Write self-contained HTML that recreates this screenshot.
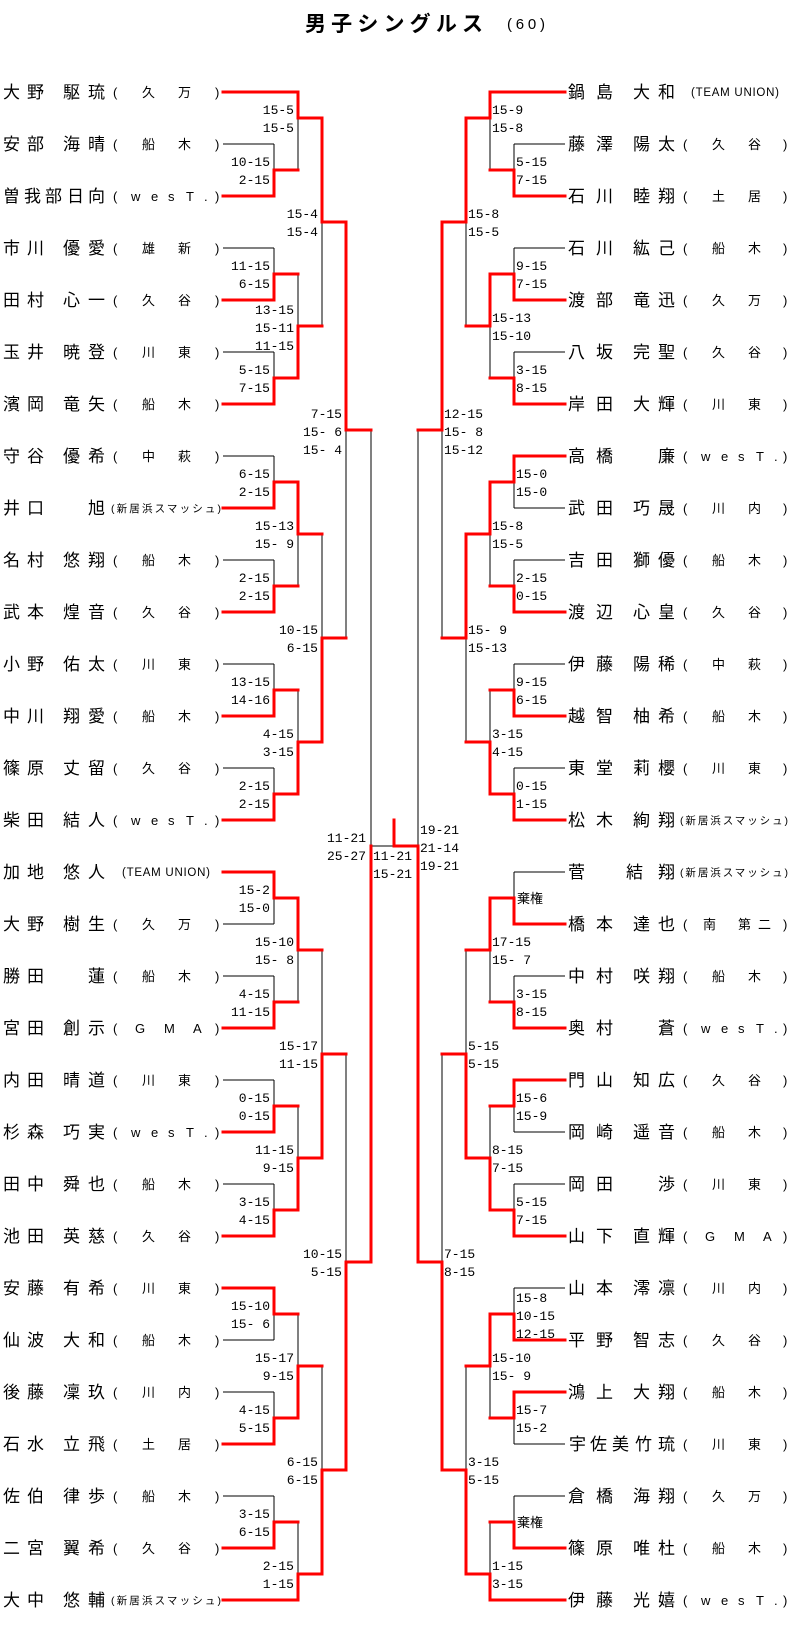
<!DOCTYPE html>
<html><head><meta charset="utf-8"><style>
html,body{margin:0;padding:0;background:#fff;}
svg{display:block;}
.n{font-family:"Liberation Sans","Noto Sans CJK JP",sans-serif;font-size:17px;fill:#000;}
.a{font-family:"Liberation Sans","Noto Sans CJK JP",sans-serif;font-size:13px;fill:#000;}
.s{font-family:"Liberation Sans","Noto Sans CJK JP",sans-serif;font-size:10.5px;fill:#000;}
.t{font-family:"Liberation Sans",sans-serif;font-size:11.5px;fill:#000;}
.c{font-family:"Liberation Mono",monospace;font-size:13px;fill:#000;}
.ce{font-family:"Liberation Mono",monospace;font-size:13px;fill:#000;text-anchor:end;}
.k{font-family:"Liberation Sans","Noto Sans CJK JP",sans-serif;font-size:13px;fill:#000;}
.b{fill:none;stroke:#000;stroke-width:1;}
.r{fill:none;stroke:#f00;stroke-width:3;stroke-linecap:square;stroke-linejoin:miter;}
</style></head><body>
<svg width="794" height="1627" viewBox="0 0 794 1627" xmlns="http://www.w3.org/2000/svg">
<text x="305" y="31" textLength="178" style="font-family:'Liberation Sans','Noto Sans CJK JP',sans-serif;font-size:21px;font-weight:bold;">男子シングルス</text>
<text x="507" y="29" textLength="38" style="font-family:'Liberation Sans','Noto Sans CJK JP',sans-serif;font-size:15px;">(60)</text>

<!-- black lines -->
<path class="b" d="
M223 144H274 M223 248H274 M223 352H274 M223 456H274 M223 560H274 M223 664H274 M223 768H274
M223 924H274 M223 976H274 M223 1080H274 M223 1184H274 M223 1340H274 M223 1392H274 M223 1496H274
M274 144V170 M274 248V274 M274 352V378 M274 456V482 M274 560V586 M274 664V690 M274 768V794
M274 898V924 M274 976V1002 M274 1080V1106 M274 1184V1210 M274 1314V1340 M274 1392V1418 M274 1496V1522
M298 118V170 M298 274V326 M298 534V586 M298 690V742 M298 950V1002 M298 1106V1158 M298 1314V1366 M298 1522V1574
M322 222V326 M322 534V638 M322 950V1054 M322 1366V1470
M346 430V638 M346 1054V1262
M371 430V846H394
M514 144H565 M514 248H565 M514 352H565 M514 508H565 M514 560H565 M514 664H565 M514 768H565
M514 872H565 M514 976H565 M514 1132H565 M514 1184H565 M514 1288H565 M514 1444H565 M514 1496H565
M514 144V170 M514 248V274 M514 352V378 M514 482V508 M514 560V586 M514 664V690 M514 768V794
M514 872V898 M514 976V1002 M514 1106V1132 M514 1184V1210 M514 1288V1314 M514 1418V1444 M514 1496V1522
M490 118V170 M490 326V378 M490 534V586 M490 690V742 M490 950V1002 M490 1106V1158 M490 1366V1418 M490 1522V1574
M466 222V326 M466 638V742 M466 950V1054 M466 1366V1470
M442 430V638 M442 1054V1262
M418 430V846
"/>
<!-- red lines -->
<path class="r" d="
M223 92H298 M223 196H274 M223 300H274 M223 404H274 M223 508H274 M223 612H274 M223 716H274 M223 820H274
M223 872H274 M223 1028H274 M223 1132H274 M223 1236H274 M223 1288H274 M223 1444H274 M223 1548H274 M223 1600H298
M274 196V170H298 M274 300V274H298 M274 404V378H298 M274 508V482H298 M274 612V586H298 M274 716V690H298 M274 820V794H298
M274 872V898H298 M274 1028V1002H298 M274 1132V1106H298 M274 1236V1210H298 M274 1288V1314H298 M274 1444V1418H298 M274 1548V1522H298
M298 92V118H322 M298 378V326H322 M298 482V534H322 M298 794V742H322 M298 898V950H322 M298 1210V1158H322 M298 1418V1366H322 M298 1600V1574H322
M322 118V222H346 M322 742V638H346 M322 1158V1054H346 M322 1574V1470H346
M346 222V430H371 M346 1470V1262H371
M371 1262V846
M394 820V846H418
M490 92H565 M514 196H565 M514 300H565 M514 404H565 M514 456H565 M514 612H565 M514 716H565 M514 820H565
M514 924H565 M514 1028H565 M514 1080H565 M514 1236H565 M514 1340H565 M514 1392H565 M514 1548H565 M490 1600H565
M514 196V170H490 M514 300V274H490 M514 404V378H490 M514 456V482H490 M514 612V586H490 M514 716V690H490 M514 820V794H490
M514 924V898H490 M514 1028V1002H490 M514 1080V1106H490 M514 1236V1210H490 M514 1340V1314H490 M514 1392V1418H490 M514 1548V1522H490
M490 92V118H466 M490 274V326H466 M490 482V534H466 M490 794V742H466 M490 898V950H466 M490 1210V1158H466 M490 1314V1366H466 M490 1600V1574H466
M466 118V222H442 M466 534V638H442 M466 1158V1054H442 M466 1574V1470H442
M442 222V430H418 M442 1470V1262H418
M418 1262V846
"/>

<!-- LEFT names -->
<g class="n">
<text x="3 27 63 88" y="98">大野駆琉</text>
<text x="3 27 63 88" y="150">安部海晴</text>
<text x="3 24 45 67 88" y="202">曽我部日向</text>
<text x="3 27 63 88" y="254">市川優愛</text>
<text x="3 27 63 88" y="306">田村心一</text>
<text x="3 27 63 88" y="358">玉井暁登</text>
<text x="3 27 63 88" y="410">濱岡竜矢</text>
<text x="3 27 63 88" y="462">守谷優希</text>
<text x="3 27 88" y="514">井口旭</text>
<text x="3 27 63 88" y="566">名村悠翔</text>
<text x="3 27 63 88" y="618">武本煌音</text>
<text x="3 27 63 88" y="670">小野佑太</text>
<text x="3 27 63 88" y="722">中川翔愛</text>
<text x="3 27 63 88" y="774">篠原丈留</text>
<text x="3 27 63 88" y="826">柴田結人</text>
<text x="3 27 63 88" y="878">加地悠人</text>
<text x="3 27 63 88" y="930">大野樹生</text>
<text x="3 27 88" y="982">勝田蓮</text>
<text x="3 27 63 88" y="1034">宮田創示</text>
<text x="3 27 63 88" y="1086">内田晴道</text>
<text x="3 27 63 88" y="1138">杉森巧実</text>
<text x="3 27 63 88" y="1190">田中舜也</text>
<text x="3 27 63 88" y="1242">池田英慈</text>
<text x="3 27 63 88" y="1294">安藤有希</text>
<text x="3 27 63 88" y="1346">仙波大和</text>
<text x="3 27 63 88" y="1398">後藤凜玖</text>
<text x="3 27 63 88" y="1450">石水立飛</text>
<text x="3 27 63 88" y="1502">佐伯律歩</text>
<text x="3 27 63 88" y="1554">二宮翼希</text>
<text x="3 27 63 88" y="1606">大中悠輔</text>
</g>
<g class="a">
<text x="113 142 178 215" y="97">(久万)</text>
<text x="113 142 178 215" y="149">(船木)</text>
<text x="113 131 151 168 186 204 215" y="201">(wesT.)</text>
<text x="113 142 178 215" y="253">(雄新)</text>
<text x="113 142 178 215" y="305">(久谷)</text>
<text x="113 142 178 215" y="357">(川東)</text>
<text x="113 142 178 215" y="409">(船木)</text>
<text x="113 142 178 215" y="461">(中萩)</text>
<text x="113 142 178 215" y="565">(船木)</text>
<text x="113 142 178 215" y="617">(久谷)</text>
<text x="113 142 178 215" y="669">(川東)</text>
<text x="113 142 178 215" y="721">(船木)</text>
<text x="113 142 178 215" y="773">(久谷)</text>
<text x="113 131 151 168 186 204 215" y="825">(wesT.)</text>
<text x="113 142 178 215" y="929">(久万)</text>
<text x="113 142 178 215" y="981">(船木)</text>
<text x="113 135 164 193 215" y="1033">(GMA)</text>
<text x="113 142 178 215" y="1085">(川東)</text>
<text x="113 131 151 168 186 204 215" y="1137">(wesT.)</text>
<text x="113 142 178 215" y="1189">(船木)</text>
<text x="113 142 178 215" y="1241">(久谷)</text>
<text x="113 142 178 215" y="1293">(川東)</text>
<text x="113 142 178 215" y="1345">(船木)</text>
<text x="113 142 178 215" y="1397">(川内)</text>
<text x="113 142 178 215" y="1449">(土居)</text>
<text x="113 142 178 215" y="1501">(船木)</text>
<text x="113 142 178 215" y="1553">(久谷)</text>
</g>
<text class="s" x="111" y="512" textLength="110">(新居浜スマッシュ)</text>
<text class="s" x="111" y="1604" textLength="110">(新居浜スマッシュ)</text>
<text class="t" x="122" y="876" textLength="88">(TEAM UNION)</text>

<!-- RIGHT names -->
<g class="n">
<text x="568 596 633 658" y="98">鍋島大和</text>
<text x="568 596 633 658" y="150">藤澤陽太</text>
<text x="568 596 633 658" y="202">石川睦翔</text>
<text x="568 596 633 658" y="254">石川紘己</text>
<text x="568 596 633 658" y="306">渡部竜迅</text>
<text x="568 596 633 658" y="358">八坂完聖</text>
<text x="568 596 633 658" y="410">岸田大輝</text>
<text x="568 596 658" y="462">高橋廉</text>
<text x="568 596 633 658" y="514">武田巧晟</text>
<text x="568 596 633 658" y="566">吉田獅優</text>
<text x="568 596 633 658" y="618">渡辺心皇</text>
<text x="568 596 633 658" y="670">伊藤陽稀</text>
<text x="568 596 633 658" y="722">越智柚希</text>
<text x="568 596 633 658" y="774">東堂莉櫻</text>
<text x="568 596 633 658" y="826">松木絢翔</text>
<text x="568 626 658" y="878">菅結翔</text>
<text x="568 596 633 658" y="930">橋本達也</text>
<text x="568 596 633 658" y="982">中村咲翔</text>
<text x="568 596 658" y="1034">奥村蒼</text>
<text x="568 596 633 658" y="1086">門山知広</text>
<text x="568 596 633 658" y="1138">岡崎遥音</text>
<text x="568 596 658" y="1190">岡田渉</text>
<text x="568 596 633 658" y="1242">山下直輝</text>
<text x="568 596 633 658" y="1294">山本澪凛</text>
<text x="568 596 633 658" y="1346">平野智志</text>
<text x="568 596 633 658" y="1398">鴻上大翔</text>
<text x="569 590 612 635 658" y="1450">宇佐美竹琉</text>
<text x="568 596 633 658" y="1502">倉橋海翔</text>
<text x="568 596 633 658" y="1554">篠原唯杜</text>
<text x="568 596 633 658" y="1606">伊藤光嬉</text>
</g>
<g class="a">
<text x="683 712 748 783" y="149">(久谷)</text>
<text x="683 712 748 783" y="201">(土居)</text>
<text x="683 712 748 783" y="253">(船木)</text>
<text x="683 712 748 783" y="305">(久万)</text>
<text x="683 712 748 783" y="357">(久谷)</text>
<text x="683 712 748 783" y="409">(川東)</text>
<text x="683 701 721 738 756 774 783" y="461">(wesT.)</text>
<text x="683 712 748 783" y="513">(川内)</text>
<text x="683 712 748 783" y="565">(船木)</text>
<text x="683 712 748 783" y="617">(久谷)</text>
<text x="683 712 748 783" y="669">(中萩)</text>
<text x="683 712 748 783" y="721">(船木)</text>
<text x="683 712 748 783" y="773">(川東)</text>
<text x="683 703 738 758 783" y="929">(南第二)</text>
<text x="683 712 748 783" y="981">(船木)</text>
<text x="683 701 721 738 756 774 783" y="1033">(wesT.)</text>
<text x="683 712 748 783" y="1085">(久谷)</text>
<text x="683 712 748 783" y="1137">(船木)</text>
<text x="683 712 748 783" y="1189">(川東)</text>
<text x="683 705 734 763 783" y="1241">(GMA)</text>
<text x="683 712 748 783" y="1293">(川内)</text>
<text x="683 712 748 783" y="1345">(久谷)</text>
<text x="683 712 748 783" y="1397">(船木)</text>
<text x="683 712 748 783" y="1449">(川東)</text>
<text x="683 712 748 783" y="1501">(久万)</text>
<text x="683 712 748 783" y="1553">(船木)</text>
<text x="683 701 721 738 756 774 783" y="1605">(wesT.)</text>
</g>
<text class="s" x="680" y="824" textLength="108">(新居浜スマッシュ)</text>
<text class="s" x="680" y="876" textLength="108">(新居浜スマッシュ)</text>
<text class="t" x="691" y="96" textLength="88">(TEAM UNION)</text>

<!-- LEFT scores -->
<g class="ce">
<text x="270" y="166">10-15</text><text x="270" y="184">2-15</text>
<text x="270" y="270">11-15</text><text x="270" y="288">6-15</text>
<text x="270" y="374">5-15</text><text x="270" y="392">7-15</text>
<text x="270" y="478">6-15</text><text x="270" y="496">2-15</text>
<text x="270" y="582">2-15</text><text x="270" y="600">2-15</text>
<text x="270" y="686">13-15</text><text x="270" y="704">14-16</text>
<text x="270" y="790">2-15</text><text x="270" y="808">2-15</text>
<text x="270" y="894">15-2</text><text x="270" y="912">15-0</text>
<text x="270" y="998">4-15</text><text x="270" y="1016">11-15</text>
<text x="270" y="1102">0-15</text><text x="270" y="1120">0-15</text>
<text x="270" y="1206">3-15</text><text x="270" y="1224">4-15</text>
<text x="270" y="1310">15-10</text><text x="270" y="1328">15- 6</text>
<text x="270" y="1414">4-15</text><text x="270" y="1432">5-15</text>
<text x="270" y="1518">3-15</text><text x="270" y="1536">6-15</text>
<text x="294" y="114">15-5</text><text x="294" y="132">15-5</text>
<text x="294" y="314">13-15</text><text x="294" y="332">15-11</text><text x="294" y="350">11-15</text>
<text x="294" y="530">15-13</text><text x="294" y="548">15- 9</text>
<text x="294" y="738">4-15</text><text x="294" y="756">3-15</text>
<text x="294" y="946">15-10</text><text x="294" y="964">15- 8</text>
<text x="294" y="1154">11-15</text><text x="294" y="1172">9-15</text>
<text x="294" y="1362">15-17</text><text x="294" y="1380">9-15</text>
<text x="294" y="1570">2-15</text><text x="294" y="1588">1-15</text>
<text x="318" y="218">15-4</text><text x="318" y="236">15-4</text>
<text x="318" y="634">10-15</text><text x="318" y="652">6-15</text>
<text x="318" y="1050">15-17</text><text x="318" y="1068">11-15</text>
<text x="318" y="1466">6-15</text><text x="318" y="1484">6-15</text>
<text x="342" y="418">7-15</text><text x="342" y="436">15- 6</text><text x="342" y="454">15- 4</text>
<text x="342" y="1258">10-15</text><text x="342" y="1276">5-15</text>
<text x="366" y="842">11-21</text><text x="366" y="860">25-27</text>
</g>
<g class="c">
<text x="373" y="860">11-21</text><text x="373" y="878">15-21</text>
<!-- RIGHT scores -->
<text x="516" y="166">5-15</text><text x="516" y="184">7-15</text>
<text x="516" y="270">9-15</text><text x="516" y="288">7-15</text>
<text x="516" y="374">3-15</text><text x="516" y="392">8-15</text>
<text x="516" y="478">15-0</text><text x="516" y="496">15-0</text>
<text x="516" y="582">2-15</text><text x="516" y="600">0-15</text>
<text x="516" y="686">9-15</text><text x="516" y="704">6-15</text>
<text x="516" y="790">0-15</text><text x="516" y="808">1-15</text>
<text x="516" y="998">3-15</text><text x="516" y="1016">8-15</text>
<text x="516" y="1102">15-6</text><text x="516" y="1120">15-9</text>
<text x="516" y="1206">5-15</text><text x="516" y="1224">7-15</text>
<text x="516" y="1302">15-8</text><text x="516" y="1320">10-15</text><text x="516" y="1338">12-15</text>
<text x="516" y="1414">15-7</text><text x="516" y="1432">15-2</text>
<text x="492" y="114">15-9</text><text x="492" y="132">15-8</text>
<text x="492" y="322">15-13</text><text x="492" y="340">15-10</text>
<text x="492" y="530">15-8</text><text x="492" y="548">15-5</text>
<text x="492" y="738">3-15</text><text x="492" y="756">4-15</text>
<text x="492" y="946">17-15</text><text x="492" y="964">15- 7</text>
<text x="492" y="1154">8-15</text><text x="492" y="1172">7-15</text>
<text x="492" y="1362">15-10</text><text x="492" y="1380">15- 9</text>
<text x="492" y="1570">1-15</text><text x="492" y="1588">3-15</text>
<text x="468" y="218">15-8</text><text x="468" y="236">15-5</text>
<text x="468" y="634">15- 9</text><text x="468" y="652">15-13</text>
<text x="468" y="1050">5-15</text><text x="468" y="1068">5-15</text>
<text x="468" y="1466">3-15</text><text x="468" y="1484">5-15</text>
<text x="444" y="418">12-15</text><text x="444" y="436">15- 8</text><text x="444" y="454">15-12</text>
<text x="444" y="1258">7-15</text><text x="444" y="1276">8-15</text>
<text x="420" y="834">19-21</text><text x="420" y="852">21-14</text><text x="420" y="870">19-21</text>
</g>
<text class="k" x="517" y="903">棄権</text>
<text class="k" x="517" y="1527">棄権</text>
</svg>
</body></html>
